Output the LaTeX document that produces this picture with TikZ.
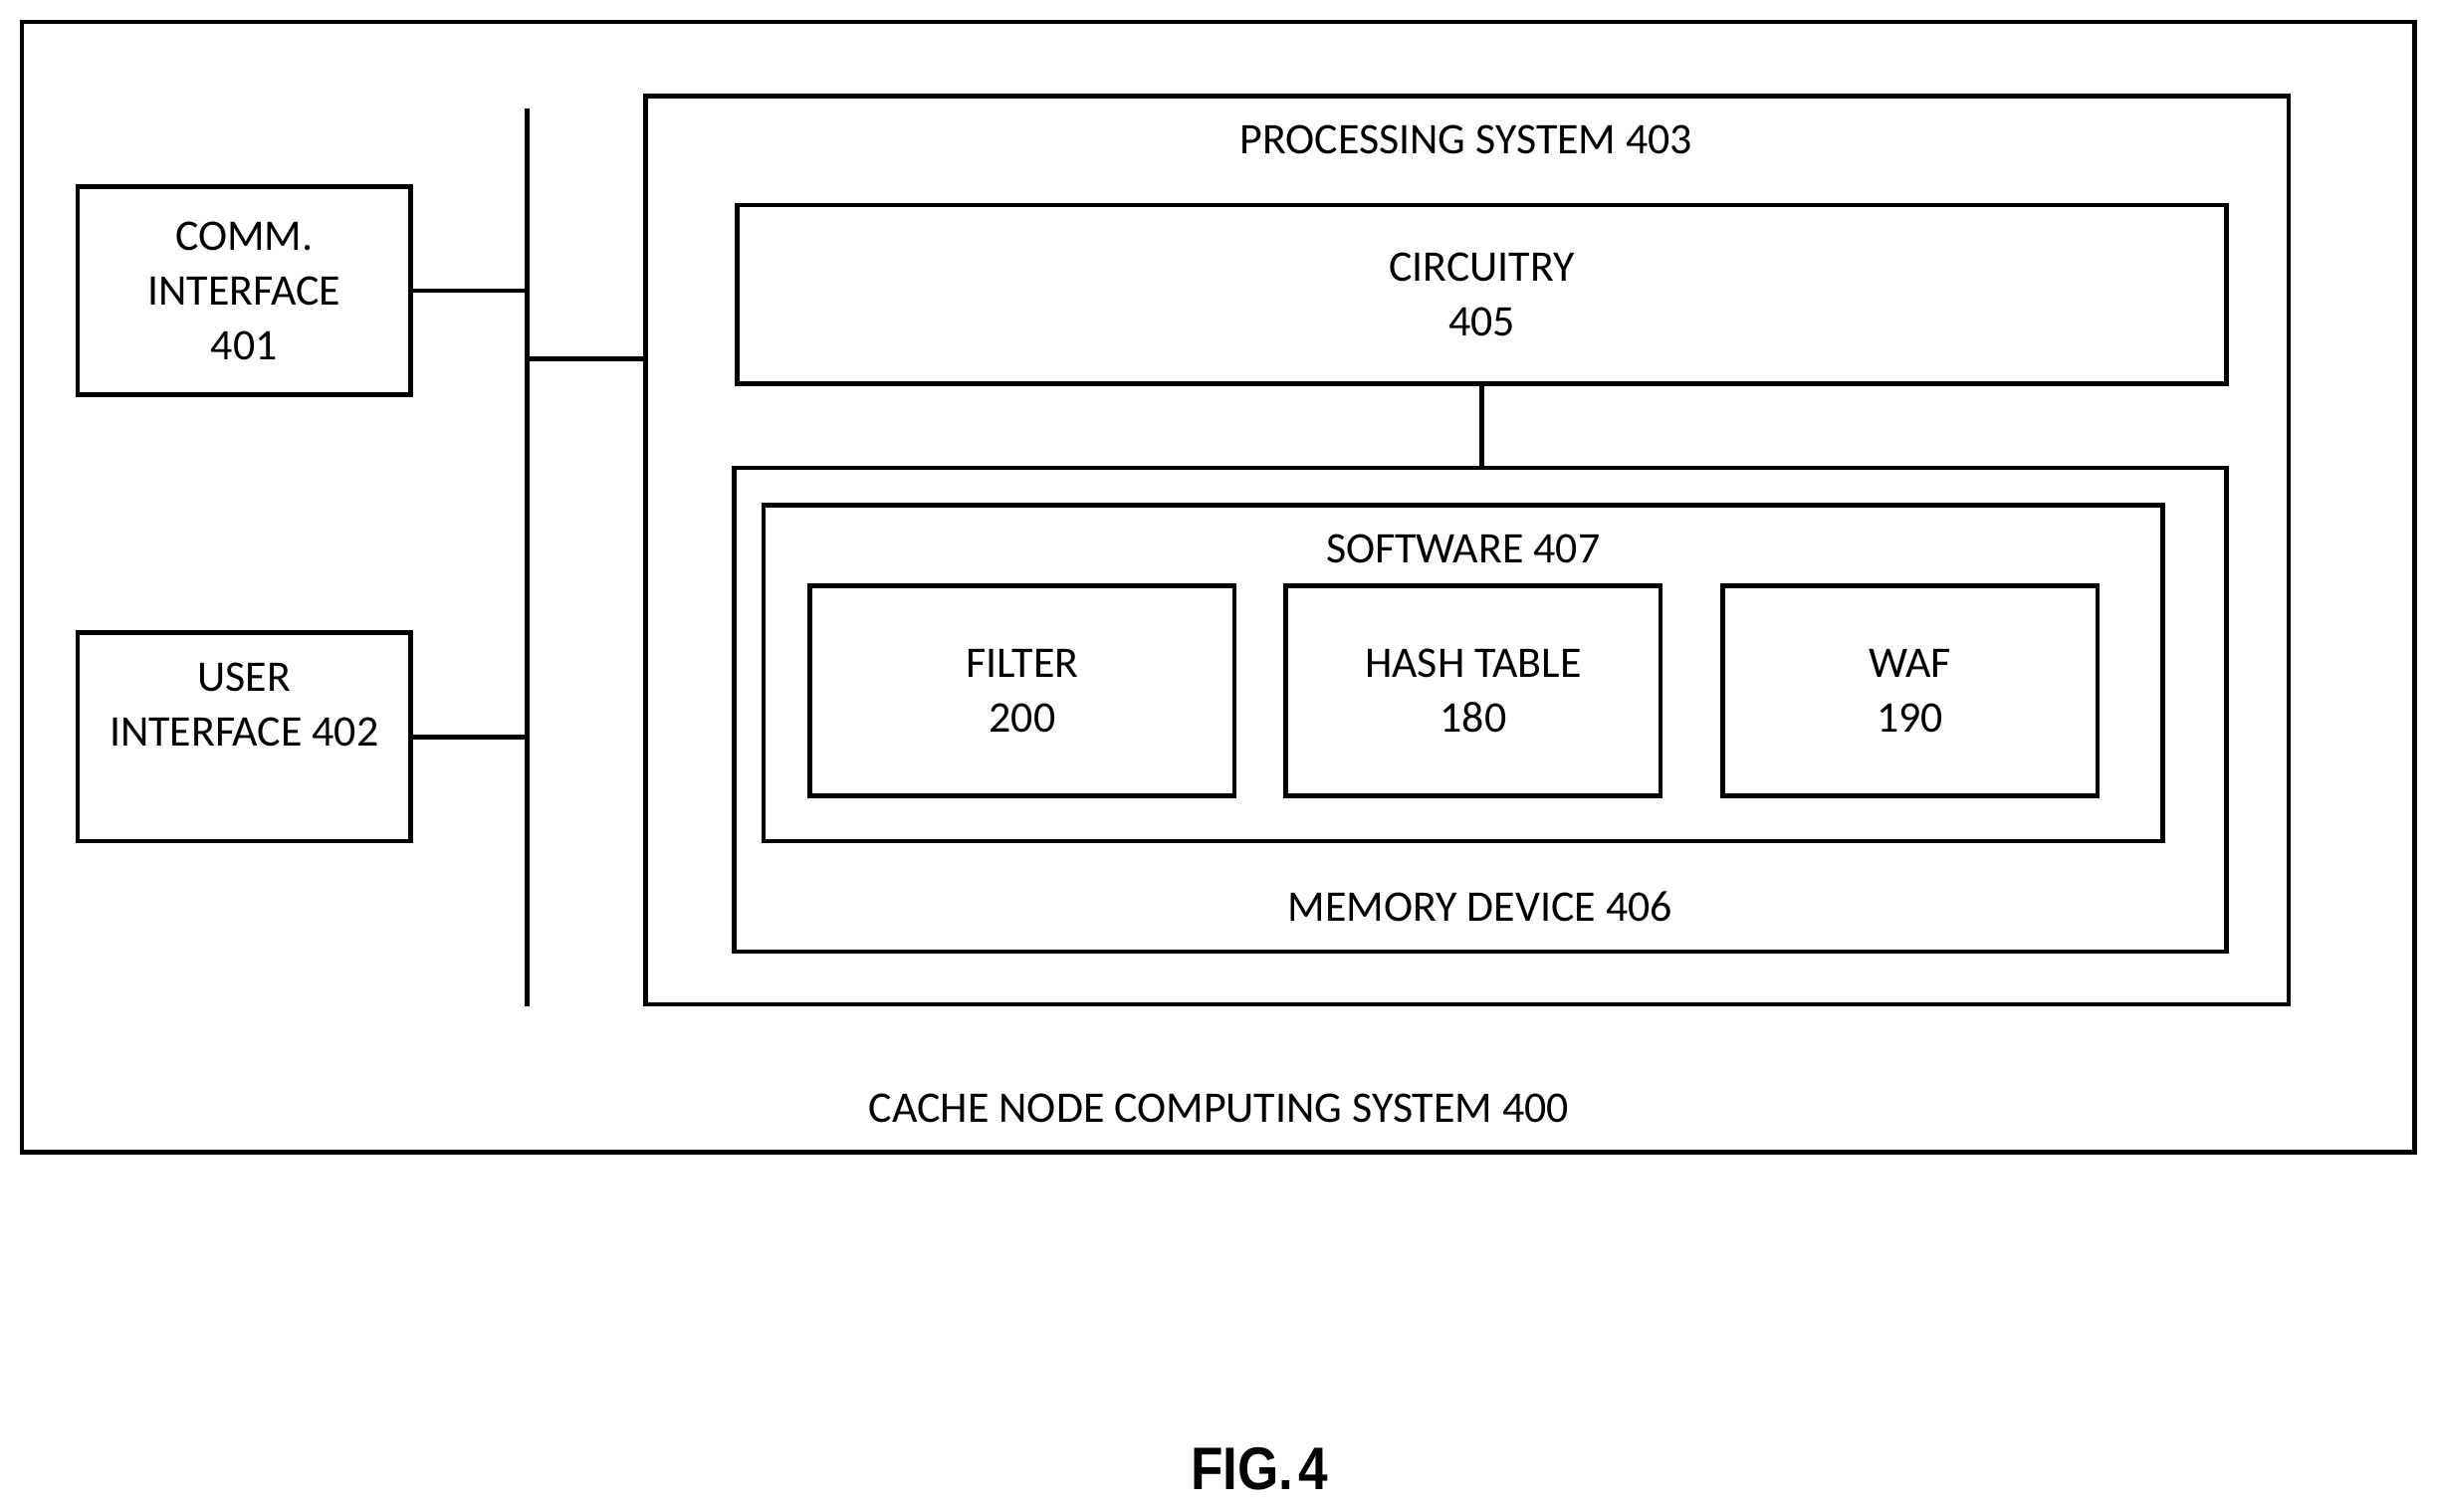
\documentclass[tikz,border=0pt]{standalone}
\usepackage{fontspec}
\setmainfont{Carlito}
\newfontfamily\figfont{Liberation Sans}
\usetikzlibrary{positioning}
\tikzset{
  block/.style={
    % The shape:
    rectangle, draw, line width=1.7pt,
    % Font
    font=\fontsize{16}{20}\selectfont, align=center, inner sep=0pt},
  label/.style={font=\fontsize{16}{20}\selectfont, align=center, inner sep=0pt},
  bus/.style={line width=1.7pt}
}
\begin{document}
\begin{tikzpicture}[x=0.02cm,y=-0.02cm]
\useasboundingbox (0,0) rectangle (1568,972);
% frames
\node [block, minimum width=1539*0.02cm, minimum height=727*0.02cm] (cache) at (783.5,377.5) {};
\node [label] (cachelbl) at (784,713) {CACHE NODE COMPUTING SYSTEM 400};
\node [block, minimum width=1057*0.02cm, minimum height=584*0.02cm] (proc) at (943.5,354) {};
\node [label] (proclbl) at (943,90) {PROCESSING SYSTEM 403};
\node [block, minimum width=958*0.02cm, minimum height=115*0.02cm] (circ) at (953,189.5) {CIRCUITRY\\405};
\node [block, minimum width=960*0.02cm, minimum height=311*0.02cm] (mem) at (952,456.5) {};
\node [label] (memlbl) at (952,583) {MEMORY DEVICE 406};
\node [block, minimum width=900*0.02cm, minimum height=216*0.02cm] (soft) at (941,433) {};
\node [label] (softlbl) at (941,353) {SOFTWARE 407};
\node [block, minimum width=273*0.02cm, minimum height=135*0.02cm] (filter) at (657.5,444.5) {FILTER\\200};
\node [block, minimum width=241*0.02cm, minimum height=135*0.02cm] (hash) at (947.5,444.5) {HASH TABLE\\180};
\node [block, minimum width=241*0.02cm, minimum height=135*0.02cm] (waf) at (1228.5,444.5) {WAF\\190};
\node [block, minimum width=214*0.02cm, minimum height=134*0.02cm] (comm) at (157,187) {COMM.\\INTERFACE\\401};
\node [block, minimum width=214*0.02cm, minimum height=134*0.02cm] (user) at (157,474) {};
\node [label] (userlbl) at (157,453) {USER\\INTERFACE 402};
% bus
\coordinate (bustop) at (339,70);
\coordinate (busbot) at (339,647);
\draw [bus] (bustop) -- (busbot);
\draw [bus] (comm.east) -- (comm.east -| bustop);
\draw [bus] (user.east) -- (user.east -| bustop);
\draw [bus] (proc.west |- 0,231) -- (bustop |- 0,231);
\draw [bus] (circ.south) -- (mem.north -| circ.south);
\node [font=\figfont\bfseries\fontsize{22}{26}\selectfont, inner sep=0pt, xscale=0.88] (fig) at (810,945) {FIG.\kern2pt 4};
\end{tikzpicture}
\end{document}
